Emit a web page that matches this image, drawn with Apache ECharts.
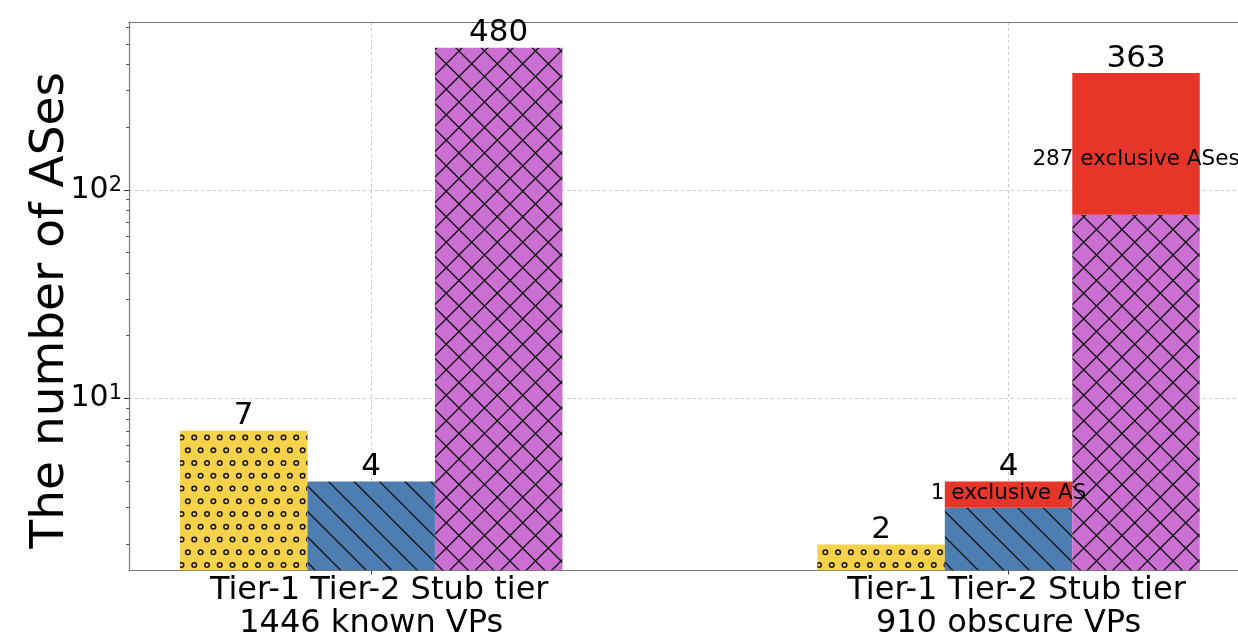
<!DOCTYPE html>
<html>
<head>
<meta charset="utf-8">
<script src="https://cdn.jsdelivr.net/npm/echarts@6/dist/echarts.min.js"></script>
<style>
html, body { margin: 0; padding: 0; background: #fff; }
#chart { width: 1238px; height: 640px; }
</style>
</head>
<body>
<div id="chart"></div>
<script>
// data
var groupNames = ['1446 known VPs', '910 obscure VPs'];
var tierNames = ['Tier-1', 'Tier-2', 'Stub tier'];
var tier1Counts = [7, 2];
var tier2Counts = [4, 4];
var stubCounts = [480, 363];
var tier2Exclusive = [0, 1];
var stubExclusive = [0, 287];
var exclusiveLabelAt = [[3.5, 140], [3.5, 140]]; // [tier-2, stub] label height per group
var yMajorTicks = [10, 100];
var yMinorTicks = [2, 3, 4, 5, 6, 7, 8, 9, 20, 30, 40, 50, 60, 70, 80, 90, 200, 300, 400, 500, 600];

var FONT = 'DejaVu Sans';
var barWidth = 0.2;
var yMin = 1.5, yMax = 637;
var xMin = -0.38, xMax = 1.36;

// hatch tiles
function makeTile(bg, lw, draw) {
	var c = document.createElement('canvas');
	c.width = 51; c.height = 51;
	var ctx = c.getContext('2d');
	ctx.fillStyle = bg;
	ctx.fillRect(0, 0, 51, 51);
	ctx.strokeStyle = '#141414';
	ctx.lineWidth = lw;
	draw(ctx);
	return { image: c, repeat: 'repeat' };
}
var dotPattern = makeTile('#f6d14a', 1.5, function (ctx) {
	var s = 12.75;
	for (var r = 0; r < 4; r++) {
		for (var k = -1; k < 5; k++) {
			var x = k * s + (r % 2 ? s / 2 : 0) + 3, y = r * s + 4;
			ctx.beginPath();
			ctx.arc(x, y, 2.3, 0, Math.PI * 2);
			ctx.stroke();
		}
	}
});
function backLines(ctx) {
	for (var k = -3; k < 3; k++) {
		ctx.beginPath();
		ctx.moveTo(k * 25.5, 0);
		ctx.lineTo(k * 25.5 + 51, 51);
		ctx.stroke();
	}
}
function fwdLines(ctx) {
	for (var k = -1; k < 5; k++) {
		ctx.beginPath();
		ctx.moveTo(k * 25.5, 0);
		ctx.lineTo(k * 25.5 - 51, 51);
		ctx.stroke();
	}
}
var linePattern = makeTile('#4e7db1', 1.3, backLines);
var crossPattern = makeTile('#cb6fd2', 1.3, function (ctx) { backLines(ctx); fwdLines(ctx); });
var exclusiveColor = '#e7352a';

// bar data: [x, top] (base bars run down to the axis floor), red parts: [x, low, top]
function xOf(g, t) { return g + (t - 1) * barWidth; }
var tier1Data = [], tier2Data = [], stubData = [], redData = [], totalLabels = [], exclLabels = [];
for (var g = 0; g < groupNames.length; g++) {
	tier1Data.push([xOf(g, 0), tier1Counts[g]]);
	tier2Data.push([xOf(g, 1), tier2Counts[g] - tier2Exclusive[g]]);
	stubData.push([xOf(g, 2), stubCounts[g] - stubExclusive[g]]);
	totalLabels.push([xOf(g, 0), tier1Counts[g]], [xOf(g, 1), tier2Counts[g]], [xOf(g, 2), stubCounts[g]]);
	if (tier2Exclusive[g] > 0) {
		redData.push([xOf(g, 1), tier2Counts[g] - tier2Exclusive[g], tier2Counts[g]]);
		exclLabels.push([xOf(g, 1), exclusiveLabelAt[g][0], tier2Exclusive[g]]);
	}
	if (stubExclusive[g] > 0) {
		redData.push([xOf(g, 2), stubCounts[g] - stubExclusive[g], stubCounts[g]]);
		exclLabels.push([xOf(g, 2), exclusiveLabelAt[g][1], stubExclusive[g]]);
	}
}

function barRender(fill) {
	return function (params, api) {
		var x = api.value(0);
		var w = api.size([barWidth, 0], [x, 10])[0];
		var top = api.coord([x, api.value(1)]);
		var bottom = params.coordSys.y + params.coordSys.height;
		return { type: 'rect', shape: { x: top[0] - w / 2, y: top[1], width: w, height: bottom - top[1] }, style: { fill: fill } };
	};
}
function redRender(params, api) {
	var x = api.value(0);
	var w = api.size([barWidth, 0], [x, 10])[0];
	var top = api.coord([x, api.value(2)]);
	var low = api.coord([x, api.value(1)]);
	return { type: 'rect', shape: { x: top[0] - w / 2, y: top[1], width: w, height: low[1] - top[1] }, style: { fill: exclusiveColor } };
}

var chart = echarts.init(document.getElementById('chart'), null, { renderer: 'canvas' });
var option = {
	animation: false,
	textStyle: { fontFamily: FONT },
	grid: { left: 129, right: 0, top: 22, bottom: 69, containLabel: false },
	xAxis: [{
		type: 'value', min: xMin, max: xMax,
		axisLine: { lineStyle: { color: '#777', width: 1.2 } },
		axisTick: { customValues: [0, 1], length: 4, lineStyle: { color: '#333' } },
		axisLabel: {
			customValues: [0, 1], margin: 4, color: '#000',
			formatter: function (v) { return '{a|' + tierNames.join(' ') + '}\n{b|' + groupNames[Math.round(v)] + '}'; },
			rich: {
				a: { fontSize: 32, lineHeight: 33, fontFamily: FONT, color: '#000', padding: [0, 0, 0, 16] },
				b: { fontSize: 32, lineHeight: 33, fontFamily: FONT, color: '#000' }
			}
		},
		splitLine: { show: true, lineStyle: { color: '#bbb', type: [3, 3], width: 0.8 } }
	}, {
		// top spine only
		type: 'value', min: xMin, max: xMax, position: 'top',
		axisLine: { show: true, onZero: false, lineStyle: { color: '#777', width: 1.2 } },
		axisTick: { show: false }, axisLabel: { show: false }, splitLine: { show: false }
	}],
	yAxis: [{
		type: 'log', min: yMin, max: yMax,
		name: 'The number of ASes', nameLocation: 'middle', nameGap: 55, nameMoveOverlap: false,
		nameTextStyle: { fontSize: 47, color: '#000', fontFamily: FONT, padding: [0, 28, 0, 0] },
		axisLine: { show: true, onZero: false, lineStyle: { color: '#777', width: 1.2 } },
		axisTick: { show: true, customValues: yMajorTicks, length: 5, lineStyle: { color: '#333' } },
		axisLabel: {
			customValues: yMajorTicks, margin: 7, color: '#000',
			formatter: function (v) { return '{a|10}{s|' + Math.round(Math.log10(v)) + '}'; },
			rich: {
				a: { fontSize: 30, lineHeight: 30, fontFamily: FONT, color: '#000' },
				s: { fontSize: 21, lineHeight: 21, fontFamily: FONT, color: '#000', verticalAlign: 'top', padding: [0, 0, 18, 0] }
			}
		},
		splitLine: { show: true, lineStyle: { color: '#bbb', type: [3, 3], width: 0.8 } }
	}, {
		type: 'log', min: yMin, max: yMax, position: 'left',
		axisLine: { show: false, onZero: false },
		axisTick: { show: true, customValues: yMinorTicks, length: 3, lineStyle: { color: '#555' } },
		axisLabel: { show: false },
		splitLine: { show: false }
	}],
	series: [
		{ name: tierNames[0], type: 'custom', renderItem: barRender(dotPattern), data: tier1Data, clip: true },
		{ name: tierNames[1], type: 'custom', renderItem: barRender(linePattern), data: tier2Data, clip: true },
		{ name: tierNames[2], type: 'custom', renderItem: barRender(crossPattern), data: stubData, clip: true },
		{ name: 'exclusive', type: 'custom', renderItem: redRender, data: redData, encode: { x: 0, y: [1, 2] }, clip: true },
		{
			name: 'totals', type: 'custom', data: totalLabels, z: 5,
			renderItem: function (params, api) {
				var p = api.coord([api.value(0), api.value(1)]);
				return { type: 'text', x: p[0], y: p[1] + 1, style: { text: String(api.value(1)), fontSize: 31, fontFamily: FONT, fill: '#000', align: 'center', verticalAlign: 'bottom' } };
			}
		},
		{
			name: 'exclusive labels', type: 'custom', data: exclLabels, z: 6, encode: { x: 0, y: 1 },
			renderItem: function (params, api) {
				var p = api.coord([api.value(0), api.value(1)]);
				var n = api.value(2);
				return { type: 'text', x: p[0], y: p[1], style: { text: n + ' exclusive AS' + (n > 1 ? 'es' : ''), fontSize: 21.5, fontFamily: FONT, fill: '#000', align: 'center', verticalAlign: 'middle' } };
			}
		}
	]
};
chart.setOption(option);
</script>
</body>
</html>
